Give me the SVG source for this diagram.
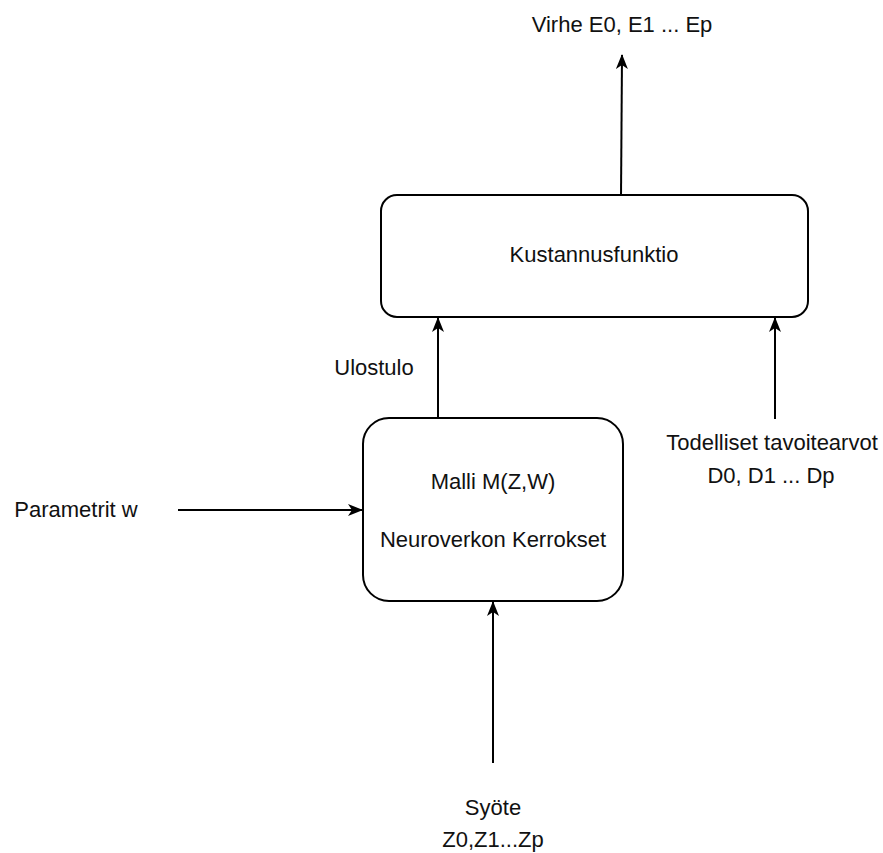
<svg xmlns="http://www.w3.org/2000/svg" width="883" height="853" viewBox="0 0 883 853">
<style>
.box{fill:#fff;stroke:#000;stroke-width:2}
.t{font-family:"Liberation Sans",Arial,sans-serif;font-size:22px;fill:#111;text-anchor:middle}
.c{stroke:#000;stroke-width:2;fill:none;marker-end:url(#ah)}
</style>
<defs>
<marker id="ah" markerWidth="15" markerHeight="12" viewBox="0 0 15 12" refX="14" refY="6" orient="auto" markerUnits="userSpaceOnUse">
<path d="M0,0 L15,6 L0,12 L4,6 Z" fill="#000"/>
</marker>
</defs>
<rect width="883" height="853" fill="#fff"/>
<g id="connectors">
<line class="c" x1="621" y1="197" x2="622" y2="55"/>
<line class="c" x1="438" y1="418" x2="438" y2="318"/>
<line class="c" x1="775" y1="419" x2="775" y2="318"/>
<line class="c" x1="178" y1="510" x2="362" y2="510"/>
<line class="c" x1="493" y1="763" x2="493" y2="602"/>
</g>
<g id="kustannusfunktio">
<rect class="box" x="381" y="195" width="427" height="122" rx="16"/>
<text class="t" x="594" y="262">Kustannusfunktio</text>
</g>
<g id="malli">
<rect class="box" x="363" y="418" width="260" height="183" rx="26"/>
<text class="t" x="493" y="489">Malli M(Z,W)</text>
<text class="t" x="493" y="547">Neuroverkon Kerrokset</text>
</g>
<g id="virhe"><text class="t" x="622" y="32">Virhe E0, E1 ... Ep</text></g>
<g id="ulostulo"><text class="t" x="374" y="375">Ulostulo</text></g>
<g id="parametrit"><text class="t" x="76" y="517">Parametrit w</text></g>
<g id="todelliset">
<text class="t" x="772" y="450">Todelliset tavoitearvot</text>
<text class="t" x="771" y="483">D0, D1 ... Dp</text>
</g>
<g id="syote">
<text class="t" x="493" y="815">Syöte</text>
<text class="t" x="493" y="847">Z0,Z1...Zp</text>
</g>
</svg>
